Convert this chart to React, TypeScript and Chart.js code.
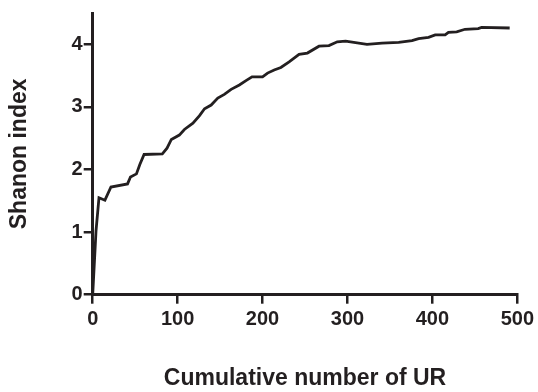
import React, { useEffect, useRef } from "react";
import { Chart, registerables } from "chart.js";

Chart.register(...registerables);

const cumulativeUR: number[] = [
  0, 3.9, 7.4, 14.4, 21.5, 41, 44.5, 51.5, 55.5, 60.5, 82, 87.5, 92.6, 102, 108,
  118, 125.8, 131.7, 139.5, 147.3, 155, 163, 172.7, 180.5, 187.6, 200, 205.9,
  213.7, 221.6, 231.3, 243, 252.8, 266.5, 278.2, 288, 297.8, 323, 340.7, 360.3,
  376, 383.8, 395.5, 403.3, 415, 418.9, 428.6, 438.4, 454, 458, 491,
];
const shannonIndex: number[] = [
  0, 1.02, 1.55, 1.51, 1.72, 1.77, 1.88, 1.93, 2.08, 2.24, 2.25, 2.34, 2.48,
  2.55, 2.64, 2.74, 2.86, 2.97, 3.03, 3.14, 3.2, 3.28, 3.35, 3.42, 3.48, 3.48,
  3.54, 3.59, 3.63, 3.72, 3.84, 3.86, 3.97, 3.98, 4.04, 4.05, 4.0, 4.02, 4.03,
  4.06, 4.09, 4.11, 4.15, 4.15, 4.19, 4.2, 4.24, 4.25, 4.27, 4.26,
];
const xTicks: number[] = [0, 100, 200, 300, 400, 500];
const yTicks: number[] = [0, 1, 2, 3, 4];
const xTitle = "Cumulative number of UR";
const yTitle = "Shanon index";

export default function App() {
  const ref = useRef<HTMLCanvasElement | null>(null);
  useEffect(() => {
    if (!ref.current) return;
    const ink = "#231f20";
    const font = "'Liberation Sans', Arial, sans-serif";
    const chart = new Chart(ref.current, {
      type: "line",
      data: {
        datasets: [
          {
            data: cumulativeUR.map((x, i) => ({ x, y: shannonIndex[i] })),
            borderColor: ink,
            borderWidth: 2.8,
            pointRadius: 0,
            tension: 0,
            fill: false,
          },
        ],
      },
      options: {
        animation: false,
        responsive: false,
        maintainAspectRatio: false,
        layout: { padding: { left: 0, right: 18.7, top: 10, bottom: 0 } },
        plugins: { legend: { display: false }, tooltip: { enabled: false } },
        scales: {
          x: {
            type: "linear",
            min: 0,
            max: 500,
            afterBuildTicks: (s: any) => {
              s.ticks = xTicks.map((v) => ({ value: v }));
            },
            afterFit: (s: any) => {
              s.height = 97.3;
            },
            border: { display: true, color: ink, width: 3 },
            grid: {
              drawOnChartArea: false,
              drawTicks: true,
              tickLength: 9,
              color: ink,
              lineWidth: 2.5,
            },
            ticks: {
              color: ink,
              padding: 4,
              maxRotation: 0,
              font: { family: font, size: 20, weight: "bold" },
            },
            title: {
              display: true,
              text: xTitle,
              color: ink,
              padding: { top: 0, bottom: 0 },
              font: { family: font, size: 23, weight: "bold" },
            },
          },
          y: {
            type: "linear",
            min: 0,
            max: 4.5,
            afterBuildTicks: (s: any) => {
              s.ticks = yTicks.map((v) => ({ value: v }));
            },
            afterFit: (s: any) => {
              s.width = 92.7;
            },
            border: { display: true, color: ink, width: 3 },
            grid: {
              drawOnChartArea: false,
              drawTicks: true,
              tickLength: 9,
              color: ink,
              lineWidth: 2.5,
            },
            ticks: {
              color: ink,
              padding: 1,
              font: { family: font, size: 20, weight: "bold" },
            },
            title: {
              display: true,
              text: yTitle,
              color: ink,
              padding: { top: 6, bottom: 0 },
              font: { family: font, size: 23, weight: "bold" },
            },
          },
        },
      },
    });
    return () => chart.destroy();
  }, []);
  return (
    <div style={{ position: "fixed", left: 0, top: 0, width: 538, height: 392, background: "#fff" }}>
      <canvas ref={ref} width={538} height={392} style={{ width: 538, height: 392 }} />
    </div>
  );
}
